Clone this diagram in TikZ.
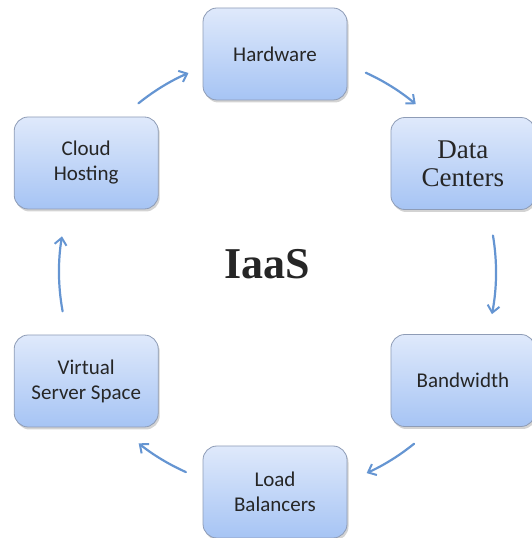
\documentclass[tikz,border=0pt]{standalone}
\usepackage{fontspec}
\setmainfont{Carlito}
\newfontfamily\serifB{Liberation Serif}
\usetikzlibrary{shadows,arrows.meta}
\definecolor{boxtop}{HTML}{DFE9FB}
\definecolor{boxbot}{HTML}{A6C4F4}
\definecolor{boxline}{HTML}{8E9CB6}
\definecolor{arrcol}{HTML}{6595D2}
\tikzset{
  cyclebox/.style={rectangle, rounded corners=14pt, draw=boxline, line width=0.8pt,
    top color=boxtop, bottom color=boxbot, minimum width=144pt, minimum height=92pt,
    align=center, font=\fontsize{21}{25}\selectfont, text=black!85,
    drop shadow={shadow xshift=1.5pt, shadow yshift=-2.5pt, opacity=0.35}},
  cyclearrow/.style={draw=arrcol, line width=2.2pt, line cap=round,
    -{Straight Barb[length=7pt,width=12pt,line width=2pt]}}
}
\begin{document}
\begin{tikzpicture}[x=1pt,y=1pt]
\useasboundingbox (0,0) rectangle (531,538);
\begin{scope}[shift={(275,266)}]
  \node[cyclebox] (hw) at (90:218) {Hardware};
  \node[cyclebox, font=\serifB\fontsize{27}{28}\selectfont] (dc) at (30:217) {Data\\Centers};
  \node[cyclebox] (bw) at (-30:217) {Bandwidth};
  \node[cyclebox] (lb) at (-90:220) {Load\\Balancers};
  \node[cyclebox] (vs) at (210:218) {Virtual\\Server Space};
  \node[cyclebox] (ch) at (150:218) {Cloud\\Hosting};
  \node[font=\serifB\bfseries\fontsize{44}{48}\selectfont, text=black!85] (iaas) at (-8,8) {IaaS};
  \coordinate (a1) at (65.5:219);
  \coordinate (a2) at (9.5:221);
  \coordinate (a3) at (-51:221);
  \coordinate (a4) at (-114:219);
  \coordinate (a5) at (190.5:216);
  \coordinate (a6) at (129:217);
  \draw[cyclearrow] (a1) arc[start angle=65.5, end angle=50, radius=219];
  \draw[cyclearrow] (a2) arc[start angle=9.5, end angle=-11, radius=221];
  \draw[cyclearrow] (a3) arc[start angle=-51, end angle=-65.5, radius=221];
  \draw[cyclearrow] (a4) arc[start angle=-114, end angle=-128.5, radius=219];
  \draw[cyclearrow] (a5) arc[start angle=190.5, end angle=170.5, radius=216];
  \draw[cyclearrow] (a6) arc[start angle=129, end angle=113.5, radius=217];
\end{scope}
\end{tikzpicture}
\end{document}
